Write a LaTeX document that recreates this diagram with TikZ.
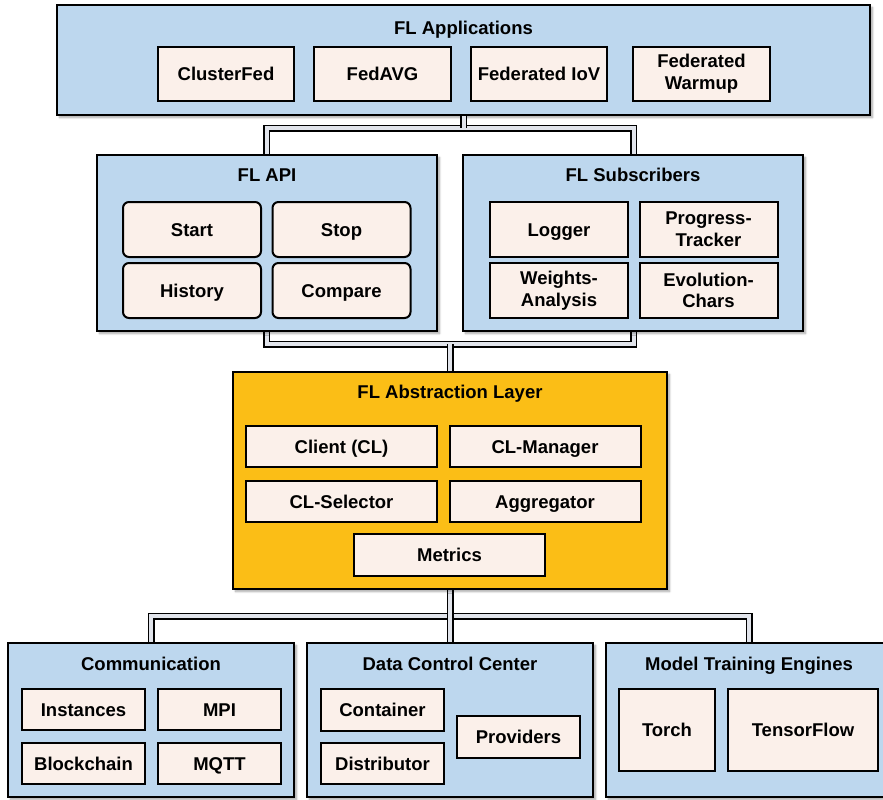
\documentclass[tikz,border=0pt]{standalone}
\usepackage{fontspec}
\setmainfont{Liberation Sans}
\definecolor{layerblue}{RGB}{189, 215, 238}
\definecolor{layergold}{RGB}{251, 190, 22}
\definecolor{itempink}{RGB}{251, 240, 234}
\definecolor{busgray}{RGB}{225, 228, 235}
\usepackage{tikz}
\usetikzlibrary{shadows.blur}
\newcommand{\lblfont}{\bfseries\fontsize{18.5}{21.7}\selectfont}

\begin{document}
\begin{tikzpicture}[x=1pt, y=-1pt,
  layer/.style={draw=black, line width=2pt, fill=layerblue, inner sep=0pt,
    blur shadow={shadow xshift=2.5pt, shadow yshift=-2.5pt, shadow blur steps=6, shadow opacity=35}},
  item/.style={draw=black, line width=2pt, fill=itempink, inner sep=0pt, align=center, font=\lblfont,
    text height=13.3pt, text depth=0pt},
  twoline/.style={text height=, text depth=},
  ritem/.style={item, rounded corners=6pt},
  ttl/.style={font=\lblfont, inner sep=0pt, text height=13.3pt, text depth=0pt},
  bus/.style={draw=black, line width=1.5pt, double=busgray, double distance=4pt}]
  \useasboundingbox (0,0) rectangle (883,800);
  \clip (0,0) rectangle (883,800);

  % Junctions of the buses
  \coordinate (topbus) at (463.5,128);
  \coordinate (midbus) at (450,344);
  \coordinate (botbus) at (450,616);

  % FL Applications
  \node[layer, minimum width=813pt, minimum height=110pt] (apps) at (463.5,60) {};
  \node[ttl] (appsT) at (463.5,27.5) {FL Applications};
  \node[item, minimum width=136pt, minimum height=54pt] (clusterfed) at (226,74) {ClusterFed};
  \node[item, minimum width=137pt, minimum height=54pt] (fedavg) at (382.5,74) {FedAVG};
  \node[item, minimum width=136pt, minimum height=54pt] (fediov) at (539,74) {Federated IoV};
  \node[item, twoline, minimum width=137pt, minimum height=54pt] (warmup) at (701.5,74) {Federated\\Warmup};

  % Buses between the upper layers
  \draw[bus] (266.5,155) |- (topbus) -| (633.5,155);
  \draw[bus] (apps.south) -- (topbus);
  \draw[bus] (266.5,331) |- (midbus) -| (633.5,331);

  % FL API
  \node[layer, minimum width=340pt, minimum height=176pt] (api) at (267,243) {};
  \node[ttl] (apiT) at (267,175) {FL API};
  \node[ritem, minimum width=138pt, minimum height=55pt] (start) at (192,229.5) {Start};
  \node[ritem, minimum width=138pt, minimum height=55pt] (stop) at (341.5,229.5) {Stop};
  \node[ritem, minimum width=138pt, minimum height=55pt] (history) at (192,290.5) {History};
  \node[ritem, minimum width=138pt, minimum height=55pt] (compare) at (341.5,290.5) {Compare};

  % FL Subscribers
  \node[layer, minimum width=340pt, minimum height=176pt] (subs) at (633,243) {};
  \node[ttl] (subsT) at (633,175) {FL Subscribers};
  \node[item, minimum width=138pt, minimum height=55pt] (logger) at (559,229.5) {Logger};
  \node[item, twoline, minimum width=138pt, minimum height=55pt] (progress) at (708.5,229.5) {Progress-\\Tracker};
  \node[item, twoline, minimum width=138pt, minimum height=55pt] (weights) at (559,290.5) {Weights-\\Analysis};
  \node[item, twoline, minimum width=138pt, minimum height=55pt] (evolution) at (708.5,290.5) {Evolution-\\Chars};

  % Buses round the abstraction layer
  \draw[bus] (midbus) -- (450,372);
  \draw[bus] (151,643) |- (botbus) -| (749,643);
  \draw[bus] (450,589) -- (450,643);

  % FL Abstraction Layer
  \node[layer, fill=layergold, minimum width=434pt, minimum height=217pt] (abstr) at (450,480.5) {};
  \node[ttl] (abstrT) at (450,392) {FL Abstraction Layer};
  \node[item, minimum width=191pt, minimum height=41pt] (client) at (341.5,446.5) {Client (CL)};
  \node[item, minimum width=191pt, minimum height=41pt] (clmanager) at (545,446.5) {CL-Manager};
  \node[item, minimum width=191pt, minimum height=41pt] (clselector) at (341.5,501.5) {CL-Selector};
  \node[item, minimum width=191pt, minimum height=41pt] (aggregator) at (545,501.5) {Aggregator};
  \node[item, minimum width=191pt, minimum height=42pt] (metrics) at (449.5,555) {Metrics};

  % Communication
  \node[layer, minimum width=286pt, minimum height=154pt] (comm) at (151,720) {};
  \node[ttl] (commT) at (151,664) {Communication};
  \node[item, minimum width=123pt, minimum height=41pt] (instances) at (83.5,709.5) {Instances};
  \node[item, minimum width=123pt, minimum height=41pt] (mpi) at (219.5,709.5) {MPI};
  \node[item, minimum width=123pt, minimum height=41pt] (blockchain) at (83.5,763.5) {Blockchain};
  \node[item, minimum width=123pt, minimum height=41pt] (mqtt) at (219.5,763.5) {MQTT};

  % Data Control Center
  \node[layer, minimum width=286pt, minimum height=154pt] (dcc) at (450,720) {};
  \node[ttl] (dccT) at (450,664) {Data Control Center};
  \node[item, minimum width=123pt, minimum height=42pt] (container) at (382.5,710) {Container};
  \node[item, minimum width=123pt, minimum height=41pt] (distributor) at (382.5,763.5) {Distributor};
  \node[item, minimum width=123pt, minimum height=42pt] (providers) at (518.5,737) {Providers};

  % Model Training Engines
  \node[layer, minimum width=286pt, minimum height=154pt] (mte) at (749,720) {};
  \node[ttl] (mteT) at (749,664) {Model Training Engines};
  \node[item, minimum width=96pt, minimum height=82pt] (torch) at (667,730) {Torch};
  \node[item, minimum width=150pt, minimum height=82pt] (tensorflow) at (803,730) {TensorFlow};
\end{tikzpicture}
\end{document}
